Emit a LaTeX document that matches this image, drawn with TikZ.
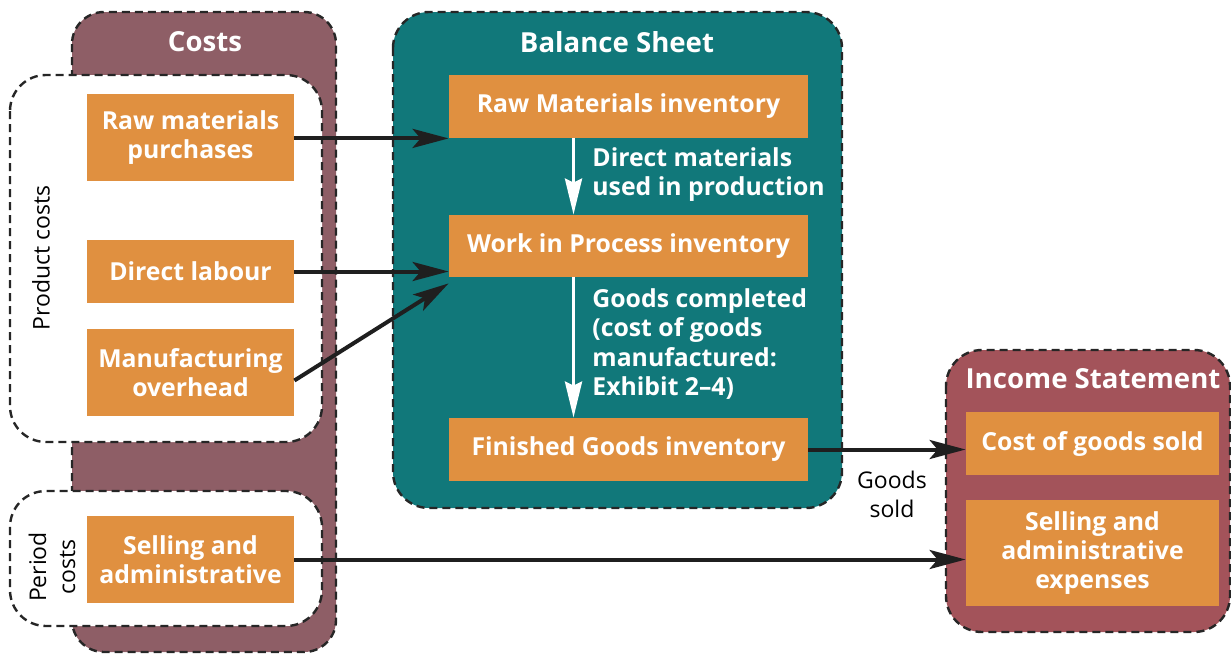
\documentclass[tikz,border=0pt]{standalone}
\usepackage{fontspec}
\setmainfont{Open Sans}
\usetikzlibrary{arrows.meta}

\definecolor{costsmauve}{HTML}{8E5E66}
\definecolor{sheetteal}{HTML}{11787A}
\definecolor{incomered}{HTML}{A3535A}
\definecolor{boxorange}{HTML}{E09040}

\tikzset{
  frame/.style={draw=black!85, line width=1.2pt, dash pattern=on 4pt off 2.5pt, rounded corners=16pt},
  item/.style={fill=boxorange, text=white, align=center, inner sep=0pt,
    font=\fontsize{12.4}{14.5}\selectfont\bfseries, minimum width=103.5pt},
  title/.style={text=white, font=\fontsize{13.8}{15}\selectfont\bfseries},
  note/.style={text=white, align=left, inner sep=0pt, anchor=west,
    font=\fontsize{12.4}{14.6}\selectfont\bfseries},
  plain/.style={align=center, inner sep=0pt, font=\fontsize{11.5}{14.5}\selectfont},
  flow/.style={-{Stealth[length=18pt,width=9.5pt,inset=4pt]}, line width=2pt, draw=black!88},
  flowdown/.style={-{Stealth[length=18pt,width=8.5pt,inset=2pt]}, line width=1.8pt, draw=white},
}

\begin{document}
\begin{tikzpicture}[x=0.5pt, y=-0.5pt]
  \useasboundingbox (0,0) rectangle (1231,654);

  % Costs column with its two groups
  \draw[frame, fill=costsmauve] (72,12) rectangle (336,652);
  \draw[frame, fill=white, rounded corners=18pt] (10,75) rectangle (322,442);
  \draw[frame, fill=white, rounded corners=18pt] (10,491) rectangle (322,626);
  \node[title] (costs) at (205,42) {Costs};
  \node[plain, rotate=90] (prod) at (41,258) {Product costs};
  \node[plain, rotate=90] (per) at (52,567) {Period\\costs};

  \node[item, minimum height=43.5pt] (rmp) at (190.5,137.5) {Raw materials\\purchases};
  \node[item, minimum height=31.5pt] (dl)  at (190.5,271.5) {Direct labour};
  \node[item, minimum height=43.5pt] (moh) at (190.5,372.5) {Manufacturing\\overhead};
  \node[item, minimum height=43.5pt] (sa)  at (190.5,559.5) {Selling and\\administrative};

  % Balance sheet
  \draw[frame, fill=sheetteal, rounded corners=18pt] (393,12) rectangle (842,508);
  \node[title] (bs) at (617,42) {Balance Sheet};
  \node[item, minimum width=179.5pt, minimum height=31.5pt] (rmi) at (628.5,106.5) {Raw Materials inventory};
  \node[item, minimum width=179.5pt, minimum height=31pt]   (wip) at (628.5,246)   {Work in Process inventory};
  \node[item, minimum width=179.5pt, minimum height=31.5pt] (fgi) at (628.5,449.5) {Finished Goods inventory};
  \draw[flowdown] ([xshift=-27.5pt]rmi.south) -- ([xshift=-27.5pt]wip.north);
  \draw[flowdown] ([xshift=-27.5pt]wip.south) -- ([xshift=-27.5pt]fgi.north);
  \node[note] (dmu) at (592,174.5) {Direct materials\\used in production};
  \node[note] (gc)  at (592,344)   {Goods completed\\(cost of goods\\manufactured:\\Exhibit 2--4)};

  % Income statement
  \draw[frame, fill=incomered, rounded corners=18pt] (946,350) rectangle (1230,632);
  \node[title] (is) at (1093,379) {Income Statement};
  \node[item, minimum width=126.5pt, minimum height=31.5pt] (cogs) at (1092.5,443.5) {Cost of goods sold};
  \node[item, minimum width=126.5pt, minimum height=53pt]   (sae)  at (1092.5,553)   {Selling and\\administrative\\expenses};
  \node[plain] (gs) at (892,494) {Goods\\sold};

  % Cost flows
  \draw[flow] (rmp.east |- rmi.south west) -- (rmi.south west);
  \draw[flow] (dl.east) -- (dl.east -| wip.west);
  \draw[flow] ([yshift=-4pt]moh.east) -- ([yshift=-3pt]wip.south west);
  \draw[flow] (fgi.east) -- (fgi.east -| cogs.west);
  \draw[flow] (sa.east) -- (sa.east -| sae.west);
\end{tikzpicture}
\end{document}
